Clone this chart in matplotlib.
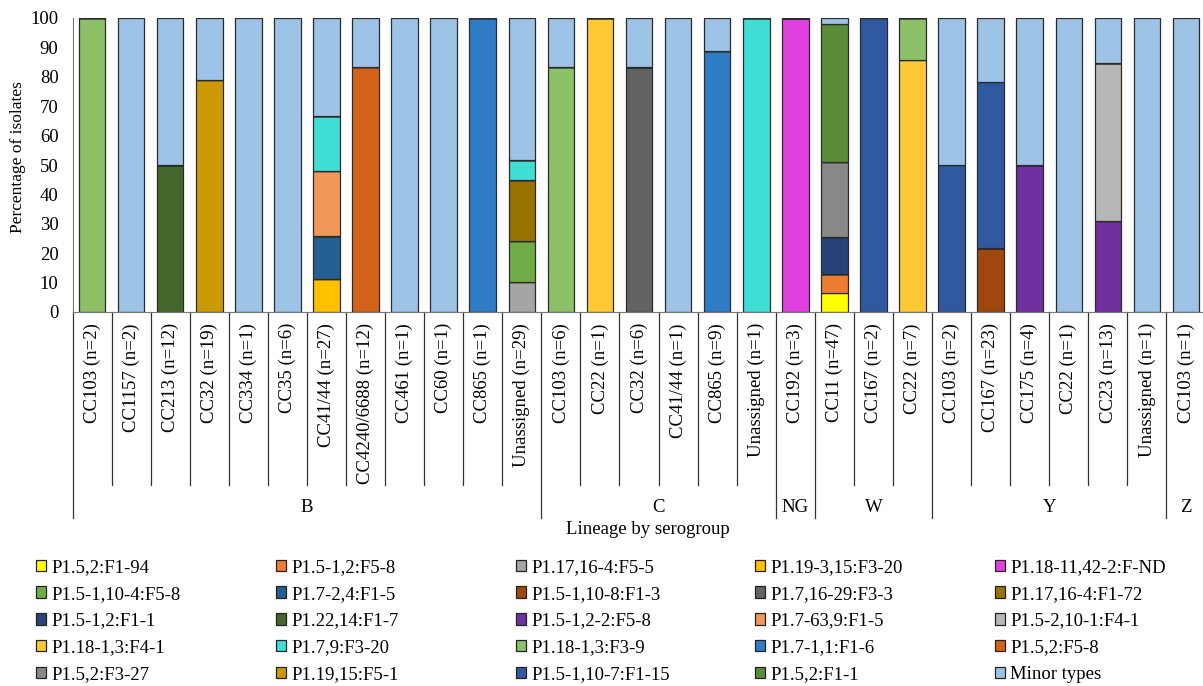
import matplotlib
matplotlib.use("Agg")
import matplotlib.pyplot as plt
from matplotlib.patches import Patch

plt.rcParams["font.family"] = ["Liberation Serif", "DejaVu Serif"]

# categories (clonal complex within serogroup)
categories = [
    "CC103 (n=2)", "CC1157 (n=2)", "CC213 (n=12)", "CC32 (n=19)", "CC334 (n=1)",
    "CC35 (n=6)", "CC41/44 (n=27)", "CC4240/6688 (n=12)", "CC461 (n=1)", "CC60 (n=1)",
    "CC865 (n=1)", "Unassigned (n=29)",
    "CC103 (n=6)", "CC22 (n=1)", "CC32 (n=6)", "CC41/44 (n=1)", "CC865 (n=9)", "Unassigned (n=1)",
    "CC192 (n=3)",
    "CC11 (n=47)", "CC167 (n=2)", "CC22 (n=7)",
    "CC103 (n=2)", "CC167 (n=23)", "CC175 (n=4)", "CC22 (n=1)", "CC23 (n=13)", "Unassigned (n=1)",
    "CC103 (n=1)",
]
groups = ["B", "C", "NG", "W", "Y", "Z"]
group_sizes = [12, 6, 1, 3, 6, 1]

# percentage of isolates per finetype, one value per category
#                 B                                                         C                               NG   W               Y                                  Z
f_5_2_F1_94    = [0, 0, 0, 0, 0, 0, 0, 0, 0, 0, 0, 0,                    0, 0, 0, 0, 0, 0,              0,   6.4, 0, 0,      0, 0, 0, 0, 0, 0,                  0]
f_51_2_F5_8    = [0, 0, 0, 0, 0, 0, 0, 0, 0, 0, 0, 0,                    0, 0, 0, 0, 0, 0,              0,   6.4, 0, 0,      0, 0, 0, 0, 0, 0,                  0]
f_17_164_F5_5  = [0, 0, 0, 0, 0, 0, 0, 0, 0, 0, 0, 10.3,                 0, 0, 0, 0, 0, 0,              0,   0, 0, 0,        0, 0, 0, 0, 0, 0,                  0]
f_193_15_F3_20 = [0, 0, 0, 0, 0, 0, 11.1, 0, 0, 0, 0, 0,                 0, 0, 0, 0, 0, 0,              0,   0, 0, 0,        0, 0, 0, 0, 0, 0,                  0]
f_1811_F_ND    = [0, 0, 0, 0, 0, 0, 0, 0, 0, 0, 0, 0,                    0, 0, 0, 0, 0, 0,              100, 0, 0, 0,        0, 0, 0, 0, 0, 0,                  0]
f_51_104_F5_8  = [0, 0, 0, 0, 0, 0, 0, 0, 0, 0, 0, 13.8,                 0, 0, 0, 0, 0, 0,              0,   0, 0, 0,        0, 0, 0, 0, 0, 0,                  0]
f_72_4_F1_5    = [0, 0, 0, 0, 0, 0, 14.8, 0, 0, 0, 0, 0,                 0, 0, 0, 0, 0, 0,              0,   0, 0, 0,        0, 0, 0, 0, 0, 0,                  0]
f_51_108_F1_3  = [0, 0, 0, 0, 0, 0, 0, 0, 0, 0, 0, 0,                    0, 0, 0, 0, 0, 0,              0,   0, 0, 0,        0, 21.7, 0, 0, 0, 0,               0]
f_7_1629_F3_3  = [0, 0, 0, 0, 0, 0, 0, 0, 0, 0, 0, 0,                    0, 0, 83.3, 0, 0, 0,           0,   0, 0, 0,        0, 0, 0, 0, 0, 0,                  0]
f_17_164_F1_72 = [0, 0, 0, 0, 0, 0, 0, 0, 0, 0, 0, 20.7,                 0, 0, 0, 0, 0, 0,              0,   0, 0, 0,        0, 0, 0, 0, 0, 0,                  0]
f_51_2_F1_1    = [0, 0, 0, 0, 0, 0, 0, 0, 0, 0, 0, 0,                    0, 0, 0, 0, 0, 0,              0,   12.8, 0, 0,     0, 0, 0, 0, 0, 0,                  0]
f_22_14_F1_7   = [0, 0, 50, 0, 0, 0, 0, 0, 0, 0, 0, 0,                   0, 0, 0, 0, 0, 0,              0,   0, 0, 0,        0, 0, 0, 0, 0, 0,                  0]
f_51_22_F5_8   = [0, 0, 0, 0, 0, 0, 0, 0, 0, 0, 0, 0,                    0, 0, 0, 0, 0, 0,              0,   0, 0, 0,        0, 0, 50, 0, 30.8, 0,              0]
f_763_9_F1_5   = [0, 0, 0, 0, 0, 0, 22.2, 0, 0, 0, 0, 0,                 0, 0, 0, 0, 0, 0,              0,   0, 0, 0,        0, 0, 0, 0, 0, 0,                  0]
f_52_101_F4_1  = [0, 0, 0, 0, 0, 0, 0, 0, 0, 0, 0, 0,                    0, 0, 0, 0, 0, 0,              0,   0, 0, 0,        0, 0, 0, 0, 53.8, 0,               0]
f_181_3_F4_1   = [0, 0, 0, 0, 0, 0, 0, 0, 0, 0, 0, 0,                    0, 100, 0, 0, 0, 0,            0,   0, 0, 85.7,     0, 0, 0, 0, 0, 0,                  0]
f_7_9_F3_20    = [0, 0, 0, 0, 0, 0, 18.5, 0, 0, 0, 0, 6.9,               0, 0, 0, 0, 0, 100,            0,   0, 0, 0,        0, 0, 0, 0, 0, 0,                  0]
f_181_3_F3_9   = [100, 0, 0, 0, 0, 0, 0, 0, 0, 0, 0, 0,                  83.3, 0, 0, 0, 0, 0,           0,   0, 0, 14.3,     0, 0, 0, 0, 0, 0,                  0]
f_71_1_F1_6    = [0, 0, 0, 0, 0, 0, 0, 0, 0, 0, 100, 0,                  0, 0, 0, 0, 88.9, 0,           0,   0, 0, 0,        0, 0, 0, 0, 0, 0,                  0]
f_5_2_F5_8     = [0, 0, 0, 0, 0, 0, 0, 83.3, 0, 0, 0, 0,                 0, 0, 0, 0, 0, 0,              0,   0, 0, 0,        0, 0, 0, 0, 0, 0,                  0]
f_5_2_F3_27    = [0, 0, 0, 0, 0, 0, 0, 0, 0, 0, 0, 0,                    0, 0, 0, 0, 0, 0,              0,   25.5, 0, 0,     0, 0, 0, 0, 0, 0,                  0]
f_19_15_F5_1   = [0, 0, 0, 78.9, 0, 0, 0, 0, 0, 0, 0, 0,                 0, 0, 0, 0, 0, 0,              0,   0, 0, 0,        0, 0, 0, 0, 0, 0,                  0]
f_51_107_F1_15 = [0, 0, 0, 0, 0, 0, 0, 0, 0, 0, 0, 0,                    0, 0, 0, 0, 0, 0,              0,   0, 100, 0,      50, 56.5, 0, 0, 0, 0,              0]
f_5_2_F1_1     = [0, 0, 0, 0, 0, 0, 0, 0, 0, 0, 0, 0,                    0, 0, 0, 0, 0, 0,              0,   46.8, 0, 0,     0, 0, 0, 0, 0, 0,                  0]
minor_types    = [0, 100, 50, 21.1, 100, 100, 33.3, 16.7, 100, 100, 0, 48.3,
                  16.7, 0, 16.7, 100, 11.1, 0,   0,   2.1, 0, 0,   50, 21.7, 50, 100, 15.4, 100,   100]

labels = [
    "P1.5,2:F1-94", "P1.5-1,2:F5-8", "P1.17,16-4:F5-5", "P1.19-3,15:F3-20", "P1.18-11,42-2:F-ND",
    "P1.5-1,10-4:F5-8", "P1.7-2,4:F1-5", "P1.5-1,10-8:F1-3", "P1.7,16-29:F3-3", "P1.17,16-4:F1-72",
    "P1.5-1,2:F1-1", "P1.22,14:F1-7", "P1.5-1,2-2:F5-8", "P1.7-63,9:F1-5", "P1.5-2,10-1:F4-1",
    "P1.18-1,3:F4-1", "P1.7,9:F3-20", "P1.18-1,3:F3-9", "P1.7-1,1:F1-6", "P1.5,2:F5-8",
    "P1.5,2:F3-27", "P1.19,15:F5-1", "P1.5-1,10-7:F1-15", "P1.5,2:F1-1", "Minor types",
]
series = [
    f_5_2_F1_94, f_51_2_F5_8, f_17_164_F5_5, f_193_15_F3_20, f_1811_F_ND,
    f_51_104_F5_8, f_72_4_F1_5, f_51_108_F1_3, f_7_1629_F3_3, f_17_164_F1_72,
    f_51_2_F1_1, f_22_14_F1_7, f_51_22_F5_8, f_763_9_F1_5, f_52_101_F4_1,
    f_181_3_F4_1, f_7_9_F3_20, f_181_3_F3_9, f_71_1_F1_6, f_5_2_F5_8,
    f_5_2_F3_27, f_19_15_F5_1, f_51_107_F1_15, f_5_2_F1_1, minor_types,
]
colors = [
    "#FFFF00", "#ED7D31", "#A5A5A5", "#FFC000", "#E040DF",
    "#70AD47", "#255E91", "#9E480E", "#636363", "#997300",
    "#264478", "#43682B", "#7030A0", "#F1975A", "#B7B7B7",
    "#FFC935", "#40DDD5", "#8CC168", "#2F7BC4", "#D4631A",
    "#888888", "#CC9A06", "#3159A0", "#5B8C3A", "#9DC3E6",
]

W, H = 1203, 686
fig = plt.figure(figsize=(W / 100, H / 100), dpi=100)
ax = fig.add_axes([72.5 / W, 1 - 312 / H, 29 * 39.07 / W, 294 / H])

x = list(range(len(categories)))
bottom = [0.0] * len(categories)
for vals, col in zip(series, colors):
    ax.bar(x, vals, 0.68, bottom=bottom, color=col, edgecolor="#2b2b2b", linewidth=0.9)
    bottom = [b + v for b, v in zip(bottom, vals)]

ax.set_xlim(-0.5, len(categories) - 0.5)
ax.set_ylim(0, 100)
ax.set_yticks(range(0, 101, 10))
ax.tick_params(axis="y", length=0, pad=10, labelsize=13.5)
ax.set_xticks(x)
ax.set_xticklabels(categories, rotation=90, fontsize=13.5)
ax.tick_params(axis="x", length=0, pad=8)
for s in ["top", "right"]:
    ax.spines[s].set_visible(False)
ax.spines["left"].set_color("#777777")
ax.spines["bottom"].set_color("#777777")

# category dividers and serogroup dividers below the axis
short_y = -(485 - 312) / 294
long_y = -(518 - 312) / 294
tr = ax.get_xaxis_transform()
ends = []
acc = 0
for n in group_sizes:
    acc += n
    ends.append(acc)
for i in range(len(categories) + 1):
    xb = i - 0.5
    yb = long_y if (i == 0 or i in ends) else short_y
    ax.plot([xb, xb], [0, yb], color="#333333", linewidth=0.9, transform=tr, clip_on=False)

start = 0
for g, n in zip(groups, group_sizes):
    ax.text(start + (n - 1) / 2, -(508 - 312) / 294, g, transform=tr,
            ha="center", va="center", fontsize=13.5)
    start += n

fig.text(648 / W, 1 - 529 / H, "Lineage by serogroup", ha="center", va="center", fontsize=13.5)
fig.text(18 / W, 1 - 157 / H, "Percentage of isolates", rotation=90,
         ha="center", va="center", fontsize=12.5)

# legend: 5 equally spaced columns, filled row by row
col_x = [38, 278, 518, 757, 997]
for c in range(5):
    handles = [Patch(facecolor=colors[r * 5 + c], edgecolor="#222222", linewidth=0.9,
                     label=labels[r * 5 + c]) for r in range(5)]
    fig.legend(handles=handles, loc="upper left",
               bbox_to_anchor=((col_x[c] - 2) / W, 1 - 559 / H),
               frameon=False, fontsize=13.5, handlelength=0.55, handleheight=0.55,
               handletextpad=0.25, labelspacing=0.52, borderpad=0, borderaxespad=0)

fig.savefig("out.png", dpi=100)
